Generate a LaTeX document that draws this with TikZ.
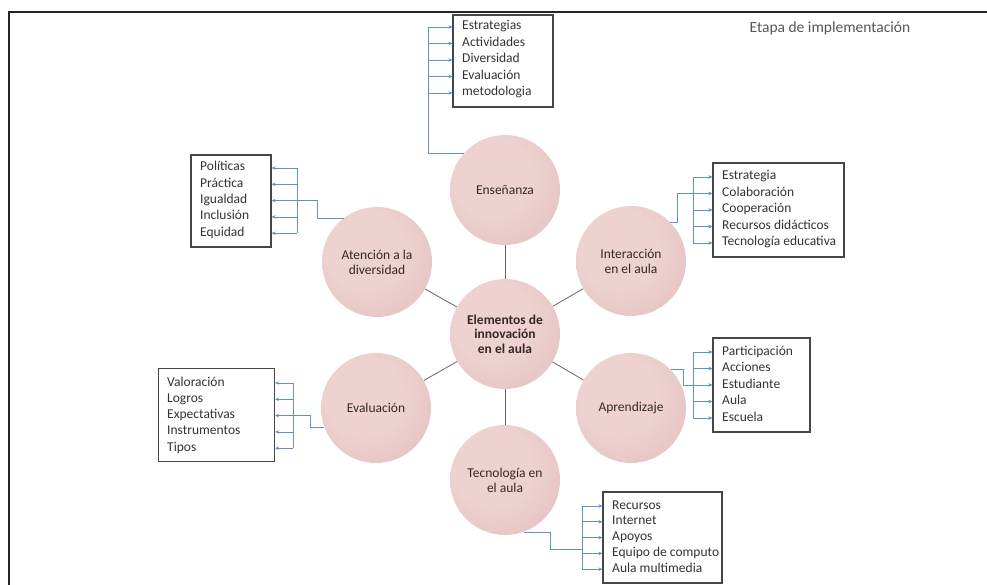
\documentclass[tikz,border=0pt]{standalone}
\usepackage{fontspec}
\setmainfont{Carlito}
\usetikzlibrary{arrows.meta,calc}
\definecolor{pinkin}{RGB}{237,210,208}
\definecolor{pinkout}{RGB}{215,170,170}
\definecolor{brblue}{RGB}{95,145,205}
\definecolor{boxgray}{RGB}{70,70,70}
\definecolor{spokec}{RGB}{115,95,95}
\definecolor{bubtext}{RGB}{55,40,40}
\definecolor{ttlgray}{RGB}{85,85,85}
\pgfdeclareradialshading{pinkball}{\pgfpoint{-8bp}{8bp}}{color(0bp)=(pinkin); color(18bp)=(pinkin); color(62bp)=(pinkout)}
\tikzset{
  bubble/.style={circle, minimum size=110pt, inner sep=0pt, shading=pinkball, align=center, text=bubtext, font=\fontsize{13.5}{15}\selectfont},
  ibox/.style={draw=boxgray, line width=1.1pt, rectangle, inner sep=0pt},
  item/.style={anchor=west, inner sep=0pt, text height=9pt, text depth=3pt, text=black!80, font=\fontsize{13.5}{16}\selectfont},
  br/.style={draw=brblue, line width=0.7pt},
  brarr/.style={br, -{Stealth[length=4pt,width=3.5pt]}},
  spoke/.style={draw=spokec, line width=0.8pt},
  frameline/.style={draw=black!85, line width=2pt},
  ttl/.style={text=ttlgray, font=\fontsize{15.5}{18}\selectfont, inner sep=0pt}
}
\begin{document}
\begin{tikzpicture}[x=1pt,y=-1pt]
\useasboundingbox (0,0) rectangle (987,585);
\draw[frameline] (9,586) -- (9,12) -- (988,12);
\node[ttl] (title) at (830,28) {Etapa de implementación};

% bubbles
\node[bubble, font=\bfseries\fontsize{13.5}{14.5}\selectfont] (cen) at (505,334) {Elementos de\\innovación\\en el aula};
\node[bubble] (ens) at (505,190) {Enseñanza};
\node[bubble] (int) at (631,261) {Interacción\\en el aula};
\node[bubble] (apr) at (631,408) {Aprendizaje};
\node[bubble] (tec) at (505,480) {Tecnología en\\el aula};
\node[bubble] (eva) at (376,408) {Evaluación};
\node[bubble] (ate) at (377,262) {Atención a la\\diversidad};

\foreach \b in {ens,int,apr,tec,eva,ate} \draw[spoke] (cen) -- (\b);

% box 1: Enseñanza
\node[ibox, minimum width=100pt, minimum height=92pt] (b1) at (503,61) {};
\coordinate (k1) at (428,27);
\foreach \t [count=\i] in {Estrategias,Actividades,Diversidad,Evaluación,metodologia} {
  \node[item] (p\i) at (462,{27+16.5*(\i-1)}) {\t};
  \draw[brarr] (p\i -| k1) -- (p\i -| b1.west);
}
\draw[br] (k1) |- (ens.138);

% box 2: Interacción
\node[ibox, minimum width=131pt, minimum height=94pt] (b2) at (778.5,210) {};
\coordinate (k2) at (693,177);
\foreach \t [count=\i] in {Estrategia,Colaboración,Cooperación,Recursos didácticos,Tecnología educativa} {
  \node[item] (q\i) at (722,{177+16.5*(\i-1)}) {\t};
  \draw[brarr] (q\i -| k2) -- (q\i -| b2.west);
}
\draw[br] (q1 -| k2) -- (q5 -| k2);
\coordinate (e2) at (677,193.5);
\draw[br] (int.45) -| (e2) -- (e2 -| k2);

% box 3: Aprendizaje
\node[ibox, minimum width=97pt, minimum height=94pt] (b3) at (761.5,385) {};
\coordinate (k3) at (693,352);
\foreach \t [count=\i] in {Participación,Acciones,Estudiante,Aula,Escuela} {
  \node[item] (r\i) at (722,{352+16.5*(\i-1)}) {\t};
  \draw[brarr] (r\i -| k3) -- (r\i -| b3.west);
}
\draw[br] (r1 -| k3) -- (r5 -| k3);
\coordinate (e3) at (683,385);
\draw[br] (apr.44) -| (e3) -- (e3 -| k3);

% box 4: Tecnología
\node[ibox, minimum width=119pt, minimum height=91pt] (b4) at (662.5,537.5) {};
\coordinate (k4) at (582,506);
\foreach \t [count=\i] in {Recursos,Internet,Apoyos,Equipo de computo,Aula multimedia} {
  \node[item] (s\i) at (612,{506+15.8*(\i-1)}) {\t};
  \draw[brarr] (s\i -| k4) -- (s\i -| b4.west);
}
\draw[br] (s1 -| k4) -- (s5 -| k4);
\coordinate (e4) at (550,549);
\draw[br] (tec.-70) -| (e4) -- (e4 -| k4);

% box 5: Evaluación
\node[ibox, minimum width=116pt, minimum height=93pt] (b5) at (216.5,415) {};
\coordinate (k5) at (293,383);
\foreach \t [count=\i] in {Valoración,Logros,Expectativas,Instrumentos,Tipos} {
  \node[item] (u\i) at (167,{383+16.3*(\i-1)}) {\t};
  \draw[brarr] (u\i -| k5) -- (u\i -| b5.east);
}
\draw[br] (u1 -| k5) -- (u5 -| k5);
\coordinate (e5) at (310,415.6);
\draw[br] (u3 -| k5) -- (e5) |- (eva.201);

% box 6: Atención
\node[ibox, minimum width=80pt, minimum height=92pt] (b6) at (231,201) {};
\coordinate (k6) at (297,168);
\foreach \t [count=\i] in {Políticas,Práctica,Igualdad,Inclusión,Equidad} {
  \node[item] (v\i) at (200,{168+16.3*(\i-1)}) {\t};
  \draw[brarr] (v\i -| k6) -- (v\i -| b6.east);
}
\draw[br] (v1 -| k6) -- (v5 -| k6);
\coordinate (e6) at (317,200.6);
\draw[br] (v3 -| k6) -- (e6) |- (ate.127);
\end{tikzpicture}
\end{document}
